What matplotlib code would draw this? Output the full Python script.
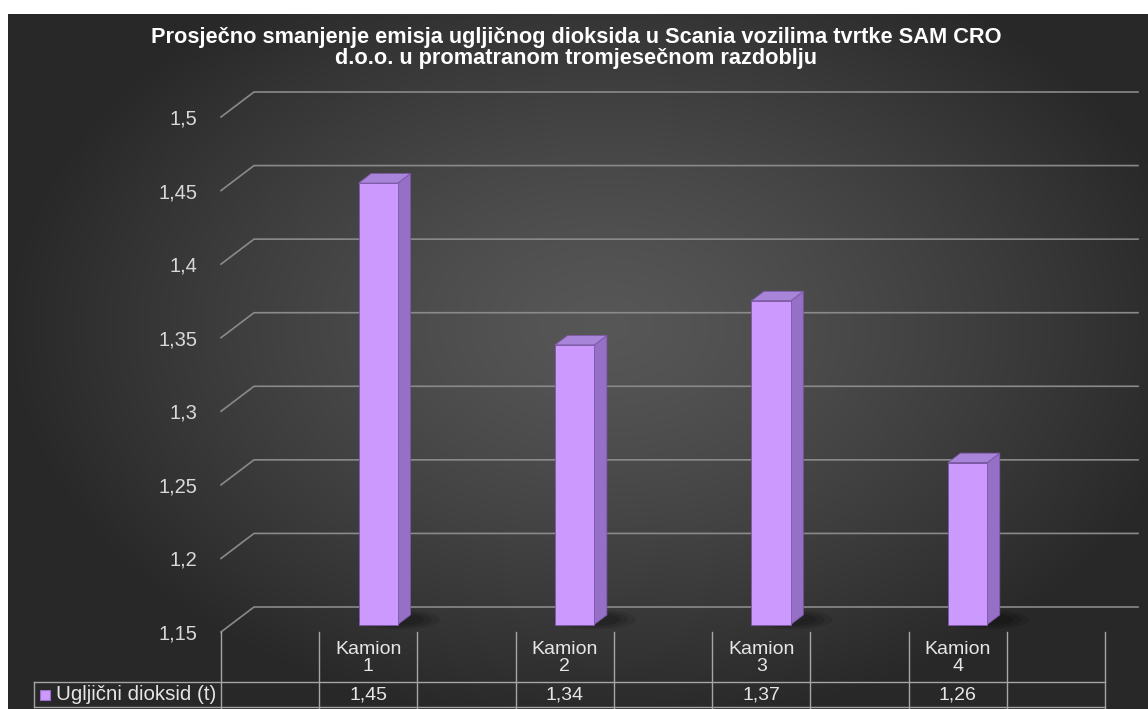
# Prosjecno smanjenje emisija CO2 - Scania vozila (3D column style chart with data table)

import numpy as np
import matplotlib
matplotlib.use('Agg')
import matplotlib.pyplot as plt
import matplotlib.transforms as mtransforms
from matplotlib.patches import Polygon, Rectangle, Ellipse
from matplotlib.lines import Line2D

plt.rcParams['font.family'] = ['Liberation Sans', 'DejaVu Sans']

# data
categories = ['Kamion\n1', 'Kamion\n2', 'Kamion\n3', 'Kamion\n4']
co2_values = [1.45, 1.34, 1.37, 1.26]
series_name = 'Ugljični dioksid (t)'
y_ticks = [1.15, 1.2, 1.25, 1.3, 1.35, 1.4, 1.45, 1.5]
title = ('Prosječno smanjenje emisja ugljičnog dioksida u Scania vozilima tvrtke SAM CRO\n'
         'd.o.o. u promatranom tromjesečnom razdoblju')

W, H = 1148, 709
fig = plt.figure(figsize=(W / 100, H / 100), dpi=100)
fig.patch.set_facecolor('white')


def px_box(x0, y0, x1, y1):
    # pixel box (from top-left) -> figure fraction rect
    return [x0 / W, 1 - y1 / H, (x1 - x0) / W, (y1 - y0) / H]


def fy(py):
    return 1 - py / H


def fx(px):
    return px / W


# dark gradient background
bg = fig.add_axes(px_box(8, 14, W, H))
gx, gy = np.meshgrid(np.linspace(-1, 1, 400), np.linspace(-1, 1, 250))
r = np.sqrt(((gx - 0.05) / 1.0) ** 2 + ((gy + 0.1) / 1.1) ** 2)
shade = np.clip(0.34 - 0.17 * r ** 1.3, 0.16, 0.34)
bg.imshow(np.dstack([shade, shade, shade]), aspect='auto', extent=(0, 1, 0, 1),
          interpolation='bilinear')
bg.set_axis_off()

# main axes = front plane of the 3D box
ax = fig.add_axes(px_box(221, 117, 1105, 632))
ax.set_xlim(-0.75, 3.75)
ax.set_ylim(1.15, 1.5)
ax.patch.set_alpha(0)
for s in ax.spines.values():
    s.set_visible(False)
ax.set_xticks([])
ax.set_yticks(y_ticks)
ax.set_yticklabels([('%g' % t).replace('.', ',') for t in y_ticks])
ax.tick_params(axis='y', length=0, pad=17, labelsize=14.5, labelcolor='#d9d9d9')

# depth projection (oblique), full depth = 33 px right, 25 px up
ux = 884 / 4.5
uy = 515 / 0.35
dep_x, dep_y = 33, 25


def proj(x, y, d):
    return (x + d * dep_x / ux, y + d * dep_y / uy)


grid_col = '#8a8a8a'
x_left, x_right = -0.75, 3.75
for t in y_ticks:
    p0 = proj(x_left, t, 0)
    p1 = proj(x_left, t, 1)
    p2 = proj(x_right, t, 1)
    ax.plot([p0[0], p1[0], p2[0]], [p0[1], p1[1], p2[1]], color=grid_col,
            lw=1.2, clip_on=False, zorder=1)

# bars
face_col = '#cc99ff'
side_col = '#9670c6'
top_col = '#a985da'
edge_col = '#7d58a8'
half_w = 0.1
d0, d1 = 0.3, 0.68
base = y_ticks[0]
for i, v in enumerate(co2_values):
    x0, x1 = i - half_w, i + half_w
    # soft shadow on floor
    for k, a in enumerate([0.10, 0.12, 0.15]):
        c = proj(i + 0.07, base, 0.5)
        ax.add_patch(Ellipse(c, 0.42 - 0.08 * k, (20 - 4 * k) / uy, color='black',
                             alpha=a, lw=0, zorder=2, clip_on=False))
    front = [proj(x0, base, d0), proj(x1, base, d0), proj(x1, v, d0), proj(x0, v, d0)]
    side = [proj(x1, base, d0), proj(x1, base, d1), proj(x1, v, d1), proj(x1, v, d0)]
    top = [proj(x0, v, d0), proj(x1, v, d0), proj(x1, v, d1), proj(x0, v, d1)]
    ax.add_patch(Polygon(side, closed=True, facecolor=side_col, edgecolor=edge_col,
                         lw=0.6, zorder=3, clip_on=False))
    ax.add_patch(Polygon(top, closed=True, facecolor=top_col, edgecolor=edge_col,
                         lw=0.6, zorder=3, clip_on=False))
    ax.add_patch(Polygon(front, closed=True, facecolor=face_col, edgecolor=edge_col,
                         lw=0.6, zorder=4, clip_on=False))

# data table below the plot
tab_col = '#a6a6a6'
bt = mtransforms.blended_transform_factory(ax.transData, fig.transFigure)
for k in range(10):
    xk = x_left + 0.5 * k
    ax.plot([xk, xk], [fy(632), fy(709)], color=tab_col, lw=1, transform=bt,
            clip_on=False)
for py in [682, 707]:
    fig.add_artist(Line2D([fx(34), fx(1105)], [fy(py), fy(py)], color=tab_col, lw=1))
fig.add_artist(Line2D([fx(34), fx(34)], [fy(682), fy(707)], color=tab_col, lw=1))

txt_col = '#e6e6e6'
for i, (c, v) in enumerate(zip(categories, co2_values)):
    ax.text(i, fy(658), c, transform=bt, ha='center', va='center', fontsize=14,
            color=txt_col, linespacing=1.05)
    ax.text(i, fy(695), ('%.2f' % v).replace('.', ','), transform=bt, ha='center',
            va='center', fontsize=14, color=txt_col)

# legend key in table
fig.add_artist(Rectangle((fx(40), fy(700)), 10 / W, 10 / H, transform=fig.transFigure,
                         facecolor=face_col, edgecolor=side_col, lw=0.8))
fig.text(fx(56), fy(695), series_name, ha='left', va='center', fontsize=14.8,
         color=txt_col)

# title
fig.text(fx(576), fy(48), title, ha='center', va='center', fontsize=15.7,
         fontweight='bold', color='white', linespacing=1.05)

plt.savefig('out.png', dpi=100)
